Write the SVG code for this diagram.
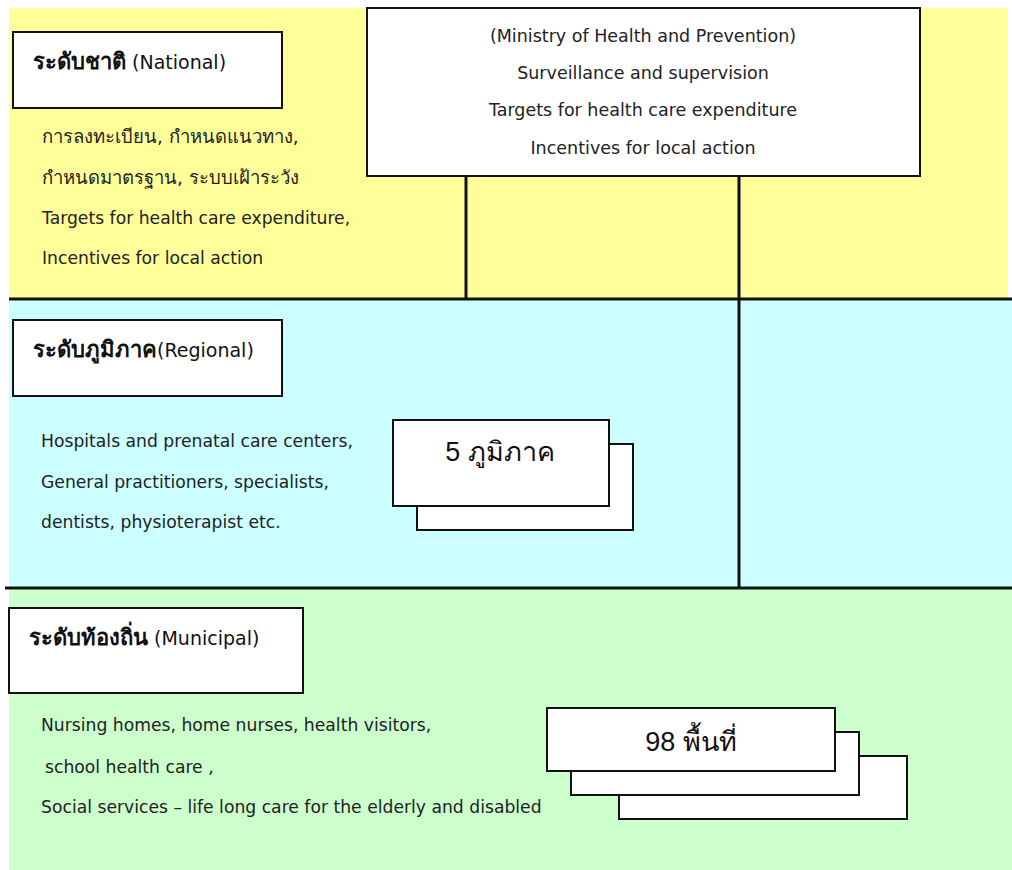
<svg xmlns="http://www.w3.org/2000/svg" width="1012" height="870" viewBox="0 0 1012 870">
  <style>
    .box { fill: #ffffff; stroke: #111111; stroke-width: 2; }
    .txt { font-family: "DejaVu Sans", "Liberation Sans", sans-serif; font-size: 17.2px; fill: #222222; }
    .min { font-size: 17.5px; }
    .thl { font-size: 18.5px; }
    .ttl { font-family: "DejaVu Sans", "Liberation Sans", sans-serif; font-size: 19px; fill: #111111; }
    .th { font-weight: bold; font-size: 22px; }
    .big { font-family: "Liberation Sans", "Noto Sans", sans-serif; font-size: 27px; fill: #111111; text-anchor: middle; }
    .mid { text-anchor: middle; }
    .rule { stroke: #111111; stroke-width: 3; fill: none; }
  </style>

  <!-- level bands -->
  <rect x="9" y="8" width="999" height="291" fill="#ffff99"/>
  <rect x="9" y="299" width="1003" height="289" fill="#ccffff"/>
  <rect x="9" y="588" width="1003" height="282" fill="#ccffcc"/>

  <!-- connectors and band dividers -->
  <g id="connectors">
    <line class="rule" x1="9" y1="299" x2="1012" y2="299"/>
    <line class="rule" x1="5" y1="588" x2="1012" y2="588"/>
    <line class="rule" x1="466" y1="176" x2="466" y2="299"/>
    <line class="rule" x1="739" y1="176" x2="739" y2="588"/>
  </g>

  <!-- national level -->
  <g id="national">
    <rect class="box" x="13" y="32" width="269" height="76"/>
    <text class="ttl" x="33" y="69"><tspan class="th">ระดับชาติ</tspan> (National)</text>
    <text class="txt thl" x="42" y="143">การลงทะเบียน, กำหนดแนวทาง,</text>
    <text class="txt thl" x="42" y="184">กำหนดมาตรฐาน, ระบบเฝ้าระวัง</text>
    <text class="txt" x="42" y="224">Targets for health care expenditure,</text>
    <text class="txt" x="42" y="264">Incentives for local action</text>
  </g>

  <g id="ministry">
    <rect class="box" x="367" y="8" width="553" height="168"/>
    <text class="txt min mid" x="643" y="42">(Ministry of Health and Prevention)</text>
    <text class="txt min mid" x="643" y="79">Surveillance and supervision</text>
    <text class="txt min mid" x="643" y="116">Targets for health care expenditure</text>
    <text class="txt min mid" x="643" y="154" fill="#333333">Incentives for local action</text>
  </g>

  <!-- regional level -->
  <g id="regional">
    <rect class="box" x="13" y="320" width="269" height="76"/>
    <text class="ttl" x="33" y="357"><tspan class="th">ระดับภูมิภาค</tspan>(Regional)</text>
    <text class="txt" x="41" y="447">Hospitals and prenatal care centers,</text>
    <text class="txt" x="41" y="488">General practitioners, specialists,</text>
    <text class="txt" x="41" y="528">dentists, physioterapist etc.</text>
  </g>

  <g id="regions-5">
    <rect class="box" x="417" y="444" width="216" height="86"/>
    <rect class="box" x="393" y="420" width="216" height="86"/>
    <text class="big" x="500" y="461">5 ภูมิภาค</text>
  </g>

  <!-- municipal level -->
  <g id="municipal">
    <rect class="box" x="9" y="608" width="294" height="85"/>
    <text class="ttl" x="29" y="645"><tspan class="th">ระดับท้องถิ่น</tspan> (Municipal)</text>
    <text class="txt" x="41" y="731">Nursing homes, home nurses, health visitors,</text>
    <text class="txt" x="45" y="773">school health care ,</text>
    <text class="txt" x="41" y="813">Social services – life long care for the elderly and disabled</text>
  </g>

  <g id="areas-98">
    <rect class="box" x="619" y="756" width="288" height="63"/>
    <rect class="box" x="571" y="732" width="288" height="63"/>
    <rect class="box" x="547" y="708" width="288" height="63"/>
    <text class="big" x="691" y="751">98 พื้นที่</text>
  </g>
</svg>
